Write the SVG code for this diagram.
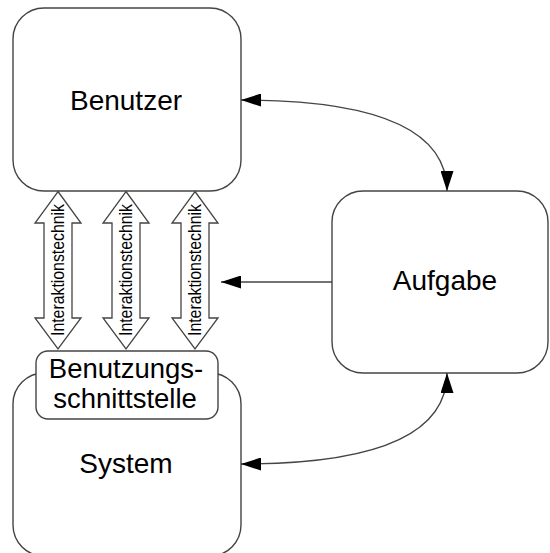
<svg xmlns="http://www.w3.org/2000/svg" width="550" height="553" viewBox="0 0 550 553">
  <style>
    .box { fill: #ffffff; stroke: #444444; stroke-width: 1.4; }
    .label { font-family: "Liberation Sans", Arial, sans-serif; font-size: 28px; fill: #000000; text-anchor: middle; }
    .small { font-family: "Liberation Sans", Arial, sans-serif; font-size: 18px; fill: #000000; text-anchor: middle; }
    .conn { fill: none; stroke: #444444; stroke-width: 1.4; }
    .dbl { fill: #ffffff; stroke: #444444; stroke-width: 1.3; }
  </style>
  <defs>
    <marker id="head" viewBox="0 0 20 13" refX="20" refY="6.5" markerWidth="20" markerHeight="13" markerUnits="userSpaceOnUse" orient="auto-start-reverse">
      <path d="M0,0 L20,6.5 L0,13 Z" fill="#000000"/>
    </marker>
  </defs>

  <rect width="550" height="553" fill="#ffffff"/>

  <g id="benutzer">
    <rect class="box" x="13" y="8" width="228" height="183" rx="31" ry="31"/>
    <text class="label" x="126" y="110">Benutzer</text>
  </g>

  <g id="aufgabe">
    <rect class="box" x="332" y="191" width="216" height="182" rx="31" ry="31"/>
    <text class="label" x="445" y="290">Aufgabe</text>
  </g>

  <g id="system">
    <rect class="box" x="13" y="373" width="228" height="183" rx="31" ry="31"/>
    <text class="label" x="126" y="473">System</text>
  </g>

  <g id="benutzungsschnittstelle">
    <rect class="box" x="36" y="351" width="182" height="68" rx="12" ry="12"/>
    <text class="label" x="126" y="378" style="font-size:27.5px">Benutzungs-</text>
    <text class="label" x="125" y="408" style="font-size:27.5px">schnittstelle</text>
  </g>

  <g id="interaktionstechnik-1">
    <path class="dbl" d="M58,191.5 L81,223 L72,223 L72,318 L81,318 L58,349 L35,318 L44,318 L44,223 L35,223 Z"/>
    <text class="small" transform="translate(64,270) rotate(-90)" textLength="132" lengthAdjust="spacingAndGlyphs">Interaktionstechnik</text>
  </g>

  <g id="interaktionstechnik-2">
    <path class="dbl" d="M126,191.5 L149,223 L140,223 L140,318 L149,318 L126,349 L103,318 L112,318 L112,223 L103,223 Z"/>
    <text class="small" transform="translate(132,270) rotate(-90)" textLength="132" lengthAdjust="spacingAndGlyphs">Interaktionstechnik</text>
  </g>

  <g id="interaktionstechnik-3">
    <path class="dbl" d="M195,191.5 L218,223 L209,223 L209,318 L218,318 L195,349 L172,318 L181,318 L181,223 L172,223 Z"/>
    <text class="small" transform="translate(201,270) rotate(-90)" textLength="132" lengthAdjust="spacingAndGlyphs">Interaktionstechnik</text>
  </g>

  <g id="connectors">
    <!-- Benutzer <-> Aufgabe -->
    <path class="conn" d="M241,100 Q447,100 447,191" marker-start="url(#head)" marker-end="url(#head)"/>
    <!-- Aufgabe -> Interaktion -->
    <path class="conn" d="M332,282 L221,282" marker-end="url(#head)"/>
    <!-- System <-> Aufgabe -->
    <path class="conn" d="M241,464 Q447,464 447,373" marker-start="url(#head)" marker-end="url(#head)"/>
  </g>
</svg>
